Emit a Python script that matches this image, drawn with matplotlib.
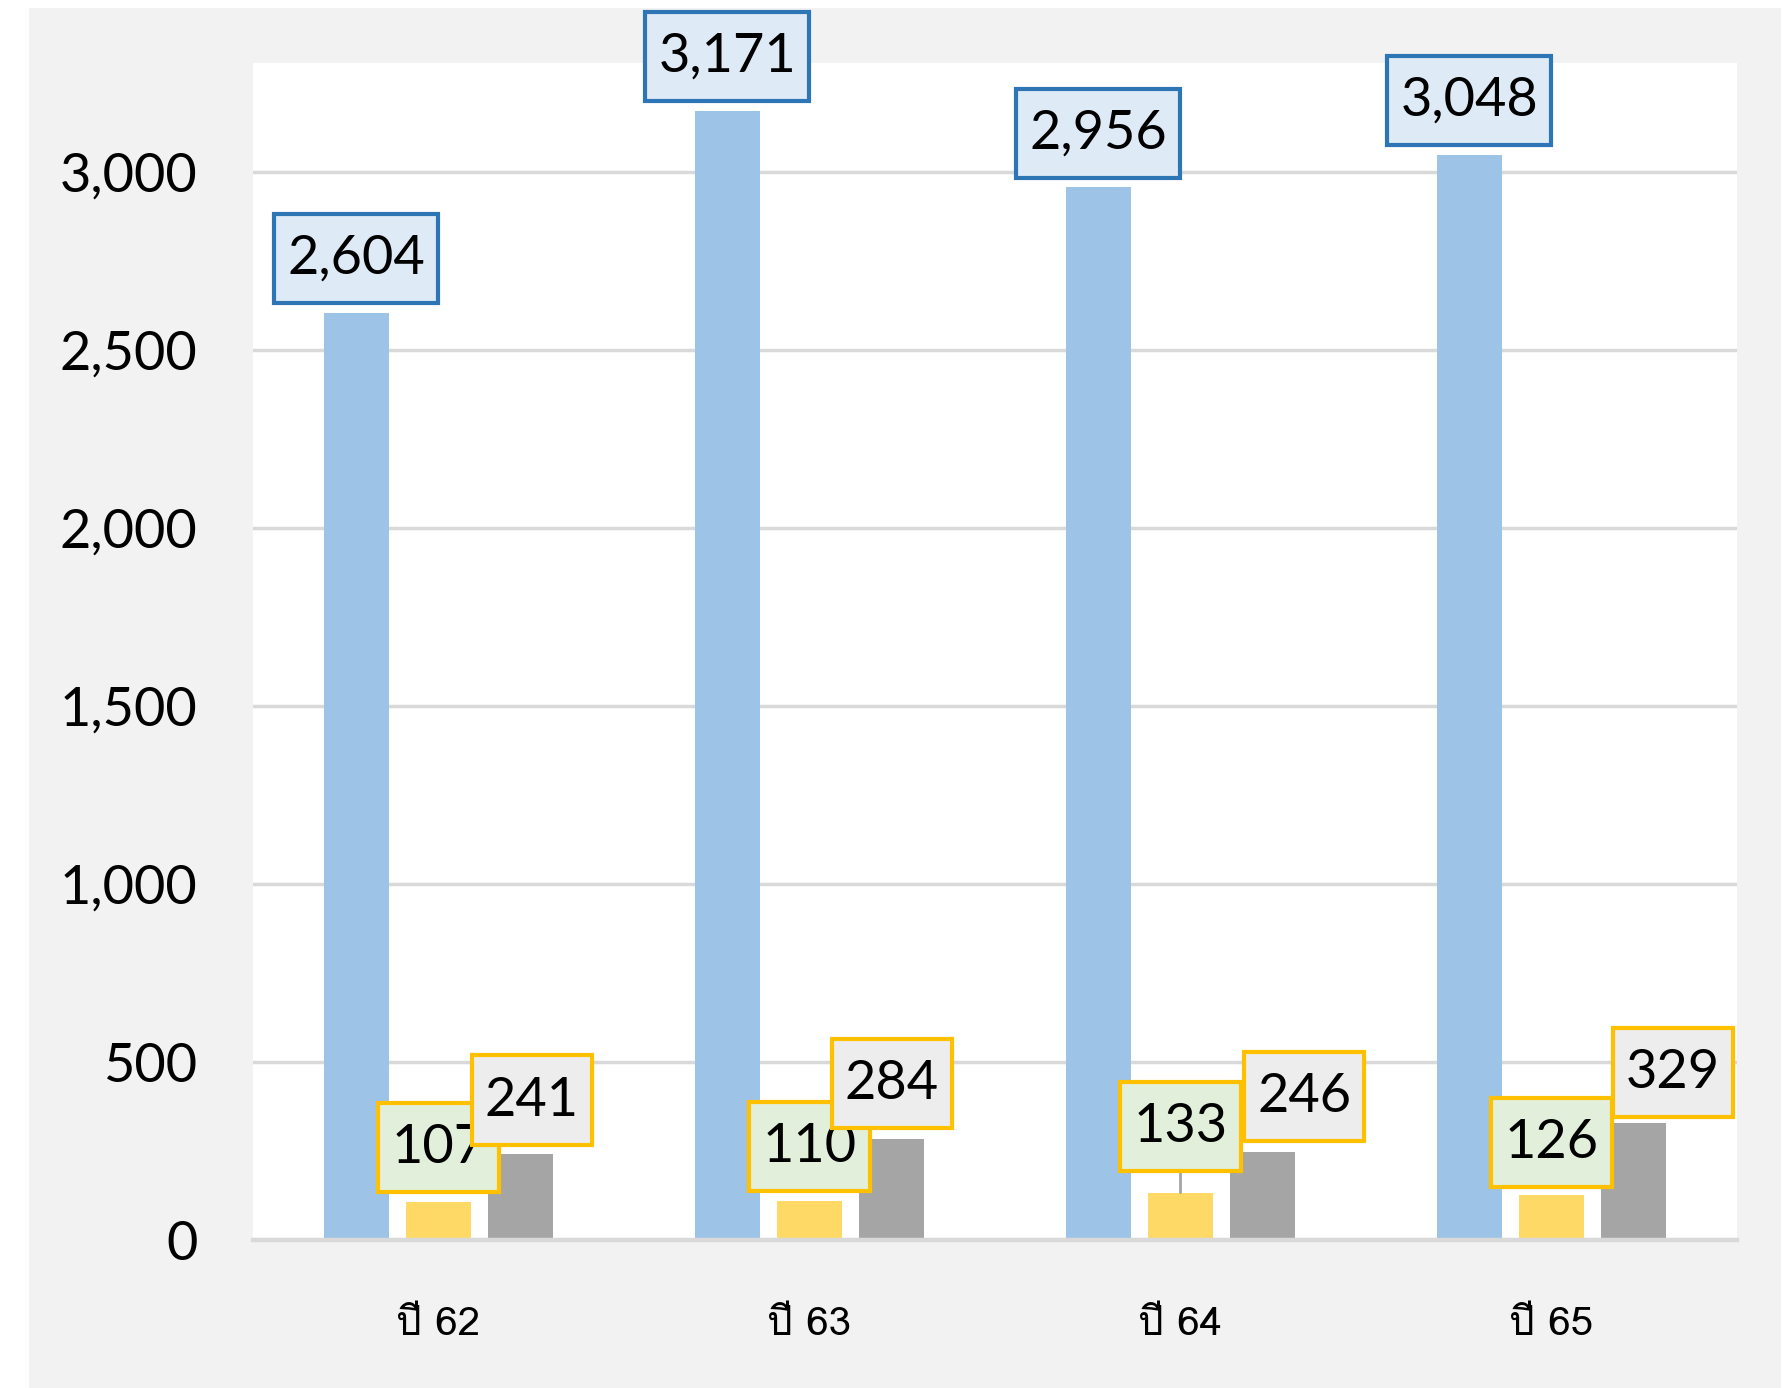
import matplotlib
matplotlib.use("Agg")
import matplotlib.pyplot as plt
from matplotlib import font_manager
from matplotlib.ft2font import FT2Font
from matplotlib.patches import Rectangle
from matplotlib.path import Path
import numpy as np

# ---------------- data ----------------
categories = ["ปี 62", "ปี 63", "ปี 64", "ปี 65"]
series_blue = [2604, 3171, 2956, 3048]
series_yellow = [107, 110, 133, 126]
series_grey = [241, 284, 246, 329]
y_ticks = [0, 500, 1000, 1500, 2000, 2500, 3000]

# ---------------- label layout (offsets in points) ----------------
blue_dx = [0, 0, 0, 0]
blue_dy = [39, 39, 39, 39]
yellow_dx = [0, 0, 0, 0]
yellow_dy = [39, 39, 47.5, 38]
grey_dx = [8, 0, 30, 28]
grey_dy = [39, 40, 40, 36]
leader_for_yellow = [False, False, True, False]


def find_fonts_with(ch):
    names = []
    for f in font_manager.fontManager.ttflist:
        try:
            if ord(ch) in FT2Font(f.fname).get_charmap():
                names.append(f.name)
        except Exception:
            pass
    return names


thai_fonts = find_fonts_with("ป")
preferred = ["TH Sarabun New", "Kinnari", "Norasi", "Laksaman", "Garuda", "Loma"]
chosen = [p for p in preferred if p in thai_fonts] or thai_fonts[:1]
thai_family = chosen[:1] + ["DejaVu Sans"]

plt.rcParams["font.family"] = ["Lato", "DejaVu Sans"]

W, H, DPI = 1790, 1388, 100
fig = plt.figure(figsize=(W / DPI, H / DPI), dpi=DPI, facecolor="white")

# grey chart-area background
fig.patches.append(Rectangle((29 / W, 0), (1781 - 29) / W, (1388 - 8) / H,
                             transform=fig.transFigure, facecolor="#F2F2F2",
                             edgecolor="none", zorder=-10))

ax = fig.add_axes([253 / W, 1 - 1240 / H, (1737 - 253) / W, (1240 - 63) / H])
ax.set_zorder(5)
ax.set_facecolor("white")

x = np.arange(len(categories))
bw = 0.175
off = 0.2215
c_blue, c_yellow, c_grey = "#9DC3E6", "#FFD966", "#A5A5A5"

ax.bar(x - off, series_blue, width=bw, color=c_blue, zorder=3)
ax.bar(x, series_yellow, width=bw, color=c_yellow, zorder=3)
ax.bar(x + off, series_grey, width=bw, color=c_grey, zorder=3)

ax.set_xlim(-0.5, 3.5)
ax.set_ylim(0, 3305)
ax.set_yticks(y_ticks)
ax.set_yticklabels([f"{v:,}" for v in y_ticks])
ax.set_xticks(x)
ax.set_xticklabels(categories)

ax.grid(axis="y", color="#D9D9D9", linewidth=2.5, zorder=1)
ax.set_axisbelow(True)
for s in ["top", "right", "left"]:
    ax.spines[s].set_visible(False)
ax.spines["bottom"].set_color("#D9D9D9")
ax.spines["bottom"].set_linewidth(3.2)
ax.spines["bottom"].set_zorder(4)
ax.tick_params(axis="both", length=0)
ax.tick_params(axis="y", labelsize=39, pad=40, labelcolor="black")
ax.tick_params(axis="x", pad=48, labelcolor="black")
for lab in ax.get_xticklabels():
    lab.set_fontfamily(thai_family)
    lab.set_fontsize(29)

label_fs = 39


def rect_box(x0, y0, width, height, mutation_size, padx=0.24, pady=0.37):
    px, py = padx * mutation_size, pady * mutation_size
    x0, y0 = x0 - px, y0 - py
    x1, y1 = x0 + width + 2 * px, y0 + height + 2 * py
    return Path([(x0, y0), (x1, y0), (x1, y1), (x0, y1), (x0, y0)], closed=True)


def add_labels(xs, vals, dxs, dys, fc, ec, leaders=None):
    for k, (xi, v, dx, dy) in enumerate(zip(xs, vals, dxs, dys)):
        arrow = None
        if leaders is not None and leaders[k]:
            arrow = dict(arrowstyle="-", color="#A5A5A5", lw=2, shrinkA=0, shrinkB=0)
        ax.annotate(f"{v:,}", xy=(xi, v), xytext=(dx, dy), textcoords="offset points",
                    ha="center", va="center", fontsize=label_fs, color="black", zorder=6,
                    bbox=dict(boxstyle=rect_box, fc=fc, ec=ec, lw=3),
                    arrowprops=arrow, annotation_clip=False)


add_labels(x - off, series_blue, blue_dx, blue_dy, "#DEEBF7", "#2E75B6")
add_labels(x, series_yellow, yellow_dx, yellow_dy, "#E2EFDA", "#FFC000", leader_for_yellow)
add_labels(x + off, series_grey, grey_dx, grey_dy, "#EDEDED", "#FFC000")

fig.savefig("out.png", dpi=DPI, facecolor="white")
